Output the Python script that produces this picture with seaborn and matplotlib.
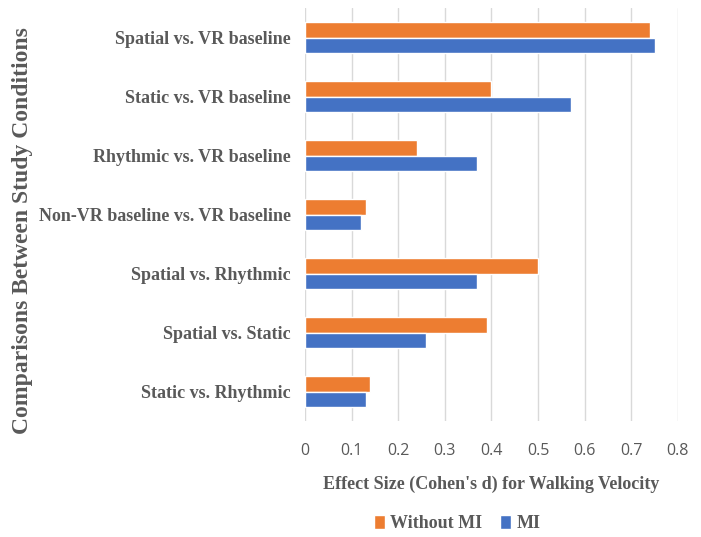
import matplotlib
matplotlib.use("Agg")
import matplotlib.pyplot as plt
import seaborn as sns
import pandas as pd

categories = [
    "Spatial vs. VR baseline",
    "Static vs. VR baseline",
    "Rhythmic vs. VR baseline",
    "Non-VR baseline vs. VR baseline",
    "Spatial vs. Rhythmic",
    "Spatial vs. Static",
    "Static vs. Rhythmic",
]
without_mi = [0.74, 0.40, 0.24, 0.13, 0.50, 0.39, 0.14]
mi = [0.75, 0.57, 0.37, 0.12, 0.37, 0.26, 0.13]
series_names = ["Without MI", "MI"]
x_ticks = [0, 0.1, 0.2, 0.3, 0.4, 0.5, 0.6, 0.7, 0.8]

df = pd.DataFrame({
    "Comparison": categories * 2,
    "Effect": without_mi + mi,
    "Series": [series_names[0]] * len(categories) + [series_names[1]] * len(categories),
})

sns.set_theme(style="white")
plt.rcParams["font.family"] = ["DejaVu Sans"]

fig = plt.figure(figsize=(7.01, 5.37), dpi=100)
ax = fig.add_axes([0.435, 0.216, 0.532, 0.769])

palette = {"Without MI": "#ED7D31", "MI": "#4472C4"}
sns.barplot(data=df, y="Comparison", x="Effect", hue="Series", order=categories,
            hue_order=series_names, palette=palette, orient="h", width=0.52,
            gap=0, saturation=1, ax=ax, legend=True)

ax.set_xlim(0, 0.8)
ax.set_ylim(6.5, -0.5)
ax.set_xticks(x_ticks)
ax.set_xticklabels([f"{t:g}" for t in x_ticks], fontsize=11.5, color="#595959",
                   family=["Open Sans"])
ax.tick_params(axis="x", length=0, pad=16)
ax.tick_params(axis="y", length=0, pad=10)
for lab in ax.get_yticklabels():
    lab.set_family(["Liberation Serif"])
    lab.set_fontweight("bold")
    lab.set_fontsize(13)
    lab.set_color("#595959")
ax.grid(axis="x", color="#D9D9D9", linewidth=1)
ax.set_axisbelow(True)
for s in ax.spines.values():
    s.set_visible(False)

ax.set_xlabel("Effect Size (Cohen's d) for Walking Velocity", family=["Liberation Serif"],
              fontweight="bold", fontsize=13, color="#595959", labelpad=12)
ax.set_ylabel("")
fig.text(0.032, 0.57, "Comparisons Between Study Conditions", rotation=90,
         family=["Liberation Serif"], fontweight="bold", fontsize=17, color="#595959",
         ha="center", va="center")

handles, labels = ax.get_legend_handles_labels()
ax.legend_.remove()
leg = fig.legend(handles, labels, loc="center", bbox_to_anchor=(0.652, 0.025), ncol=2,
                 frameon=False, handlelength=0.6, handleheight=0.8, handletextpad=0.3,
                 columnspacing=1.0, prop={"family": "Liberation Serif", "weight": "bold", "size": 13})
for t in leg.get_texts():
    t.set_color("#595959")

fig.savefig("out.png", dpi=100)
